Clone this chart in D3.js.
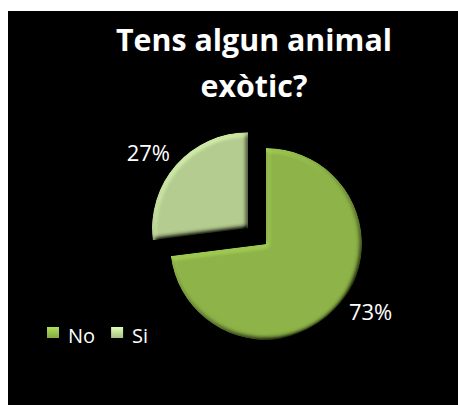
<!DOCTYPE html>
<html>
<head>
<meta charset="utf-8">
<script src="https://cdn.jsdelivr.net/npm/d3@7"></script>
<style>
  html, body { margin: 0; padding: 0; background: #ffffff; }
  svg { display: block; }
</style>
</head>
<body>
<svg id="chart" width="458" height="405"></svg>
<script>
// ---- data ----
const titleLines = ["Tens algun animal", "exòtic?"];
const categories = ["No", "Si"];
const values = [73, 27];
const labels = ["73%", "27%"];
const colors = ["#93bb4b", "#bcd596"];

const svg = d3.select("#chart");
const W = 458, H = 405;

// chart background (black)
svg.append("rect").attr("x", 8).attr("y", 11).attr("width", W - 8).attr("height", H - 11).attr("fill", "#000");

// bevel filter
const defs = svg.append("defs");
const f = defs.append("filter").attr("id", "bevel").attr("x", "-10%").attr("y", "-10%").attr("width", "120%").attr("height", "120%");
f.append("feGaussianBlur").attr("in", "SourceAlpha").attr("stdDeviation", 2.6).attr("result", "b");
const dl = f.append("feDiffuseLighting").attr("in", "b").attr("surfaceScale", 4).attr("diffuseConstant", 1).attr("lighting-color", "#fff").attr("result", "d");
dl.append("feDistantLight").attr("azimuth", 235).attr("elevation", 48);
f.append("feComposite").attr("in", "SourceGraphic").attr("in2", "d").attr("operator", "arithmetic").attr("k1", 1.345).attr("k2", 0).attr("k3", 0).attr("k4", 0).attr("result", "lit");
f.append("feComposite").attr("in", "lit").attr("in2", "SourceAlpha").attr("operator", "in");

// radial shading gradients for slices, linear for legend keys
colors.forEach((c, i) => {
  const g = defs.append("radialGradient").attr("id", "grad" + i).attr("gradientUnits", "userSpaceOnUse")
    .attr("cx", 266).attr("cy", 230).attr("r", 110);
  g.append("stop").attr("offset", "0%").attr("stop-color", d3.color(c).brighter(0.1));
  g.append("stop").attr("offset", "100%").attr("stop-color", d3.color(c).darker(0.12));
  const lg = defs.append("linearGradient").attr("id", "key" + i).attr("x1", 0).attr("y1", 0).attr("x2", 0).attr("y2", 1);
  lg.append("stop").attr("offset", "0%").attr("stop-color", d3.color(c).brighter(0.5));
  lg.append("stop").attr("offset", "100%").attr("stop-color", d3.color(c).darker(0.3));
});

// title
const title = svg.append("g");
const tl = title.selectAll("text").data(titleLines).join("text")
  .attr("x", 254).attr("y", (d, i) => 51 + i * 46)
  .attr("text-anchor", "middle")
  .attr("font-family", "'Open Sans', sans-serif")
  .attr("font-weight", "bold")
  .attr("font-size", 30)
  .attr("fill", "#fff")
  .text(d => d);
const w0 = tl.node().getComputedTextLength();
tl.attr("font-size", 30 * 276 / w0);

// pie
const cx = 266, cy = 244, R = 96, explode = 24;
const pie = d3.pie().sort(null).value(d => d)(values);
const arc = d3.arc().innerRadius(0).outerRadius(R);
const labelArc = d3.arc().innerRadius(R * 1.3).outerRadius(R * 1.3);
const explodeIdx = 1;

const g = svg.append("g").attr("transform", `translate(${cx},${cy})`);
const slices = g.selectAll("g.slice").data(pie).join("g").attr("class", "slice")
  .attr("transform", (d, i) => {
    if (i !== explodeIdx) return null;
    const a = (d.startAngle + d.endAngle) / 2;
    return `translate(${explode * Math.sin(a)},${-explode * Math.cos(a)})`;
  });
slices.append("path")
  .attr("d", arc)
  .attr("fill", (d, i) => `url(#grad${i})`)
  .attr("filter", "url(#bevel)");

// data labels
const nudges = [[11, -14], [-6, 8]];
slices.append("text")
  .attr("transform", (d, i) => {
    const p = labelArc.centroid(d);
    return `translate(${p[0] + nudges[i][0]},${p[1] + nudges[i][1]})`;
  })
  .attr("text-anchor", "middle")
  .attr("dy", "0.35em")
  .attr("font-family", "'Open Sans', sans-serif")
  .attr("font-size", 22)
  .attr("fill", "#fff")
  .text((d, i) => labels[i]);

// legend
const legend = svg.append("g").attr("transform", "translate(47,327)");
let xoff = 0;
categories.forEach((c, i) => {
  const item = legend.append("g").attr("transform", `translate(${xoff},0)`);
  item.append("rect").attr("width", 12).attr("height", 11).attr("fill", `url(#key${i})`);
  const t = item.append("text").attr("x", 21).attr("y", 16)
    .attr("font-family", "'Open Sans', sans-serif").attr("font-size", 20).attr("fill", "#fff").text(c);
  xoff += 21 + t.node().getComputedTextLength() + 16;
});
</script>
</body>
</html>
